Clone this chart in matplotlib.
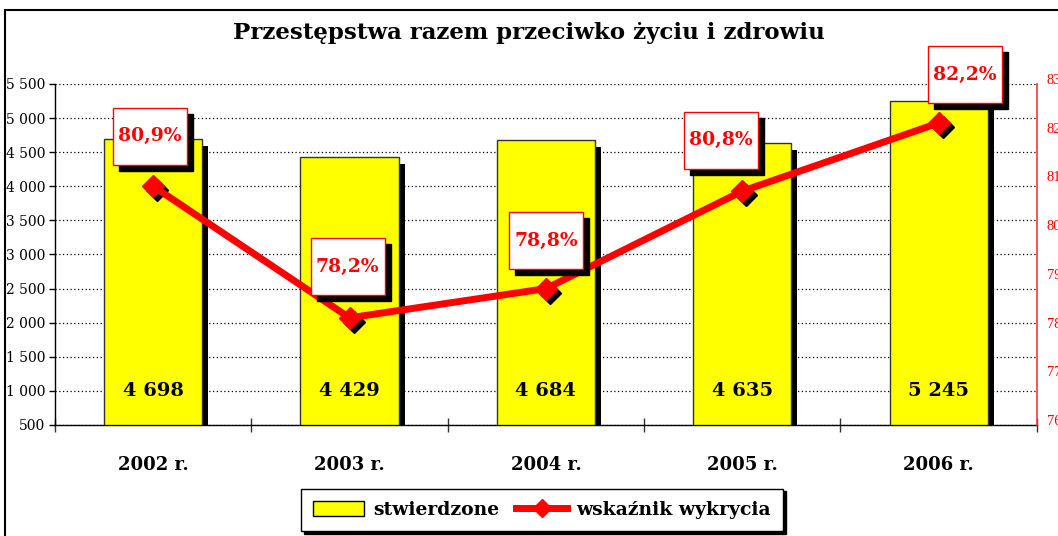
import matplotlib.pyplot as plt
import numpy as np
from matplotlib.patches import Rectangle, Patch
from matplotlib.lines import Line2D
from matplotlib.transforms import ScaledTranslation

# -----------------------------
# Data
# -----------------------------
years = ["2002 r.", "2003 r.", "2004 r.", "2005 r.", "2006 r."]
stwierdzone = [4698, 4429, 4684, 4635, 5245]
wskaznik = [80.9, 78.2, 78.8, 80.8, 82.2]

left_ticks = list(range(500, 5501, 500))
right_ticks = list(range(76, 84))

# label box offsets from the marker, in pixels (dx, dy)
box_offsets = [(-3, 50), (-2, 51), (0, 48), (-21, 51), (26, 48)]

plt.rcParams["font.family"] = "DejaVu Serif"

fig = plt.figure(figsize=(10.58, 5.36), dpi=100)
ax = fig.add_axes([0.052, 0.2071, 0.928, 0.6362])
PX = 1 / fig.dpi

x = np.arange(len(years))

# -----------------------------
# Bars (with black drop shadow)
# -----------------------------
shadow_off = ax.transData + ScaledTranslation(6 * PX, -7 * PX, fig.dpi_scale_trans)
heights = [v - 500 for v in stwierdzone]
shadows = ax.bar(x, heights, width=0.5, bottom=500, color="black", zorder=2)
for p in shadows:
    p.set_transform(shadow_off)
ax.bar(x, heights, width=0.5, bottom=500, color="#ffff00", edgecolor="#333333",
       linewidth=1, zorder=3)

for i, v in enumerate(stwierdzone):
    ax.text(i, 1000, f"{v:,}".replace(",", " "), ha="center", va="center",
            fontsize=14, fontweight="bold", zorder=4)

ax.set_xlim(-0.5, 4.5)
ax.set_ylim(500, 5500)
ax.set_yticks(left_ticks)
ax.set_yticklabels([f"{v:,}".replace(",", " ") for v in left_ticks], fontsize=10)
ax.tick_params(axis="y", direction="out", length=4, width=1, pad=3)
ax.set_xticks(x)
ax.set_xticklabels(years, fontsize=13, fontweight="bold")
ax.set_xticks(np.arange(-0.5, 5, 1), minor=True)
ax.tick_params(axis="x", which="major", length=0, pad=22)
ax.tick_params(axis="x", which="minor", direction="inout", length=10, width=1,
               color="#333333")
ax.yaxis.grid(True, linestyle=(0, (1, 2)), color="black", linewidth=0.9)
ax.set_axisbelow(True)
for s in ["top", "right"]:
    ax.spines[s].set_visible(False)
ax.spines["left"].set_linewidth(1)
ax.spines["bottom"].set_linewidth(1)

# -----------------------------
# Detection rate line (right axis)
# -----------------------------
ax2 = ax.twinx()
ax2.set_ylim(76, 83)
ax2.set_yticks(right_ticks)
ax2.set_yticklabels([f"{v}%" for v in right_ticks], color="red", fontsize=10.5,
                    family="Liberation Serif")
ax2.tick_params(axis="y", length=0, pad=7)
lift = ScaledTranslation(0, 5 * PX, fig.dpi_scale_trans)
for lbl in ax2.get_yticklabels():
    lbl.set_transform(lbl.get_transform() + lift)
for s in ["top", "left", "bottom"]:
    ax2.spines[s].set_visible(False)
ax2.spines["right"].set_color("#ff3333")
ax2.spines["right"].set_linewidth(1.2)

mk_off = ax2.transData + ScaledTranslation(4 * PX, -4 * PX, fig.dpi_scale_trans)
ax2.plot(x, wskaznik, ls="none", marker="D", ms=11, color="black",
         transform=mk_off, zorder=3)
ax2.plot(x, wskaznik, color="red", lw=5, marker="D", ms=11, zorder=4)

bw, bh = 74, 57
for i, v in enumerate(wskaznik):
    dx, dy = box_offsets[i]
    trans = fig.dpi_scale_trans + ScaledTranslation(x[i], v, ax2.transData)
    ax2.add_patch(Rectangle(((dx - bw / 2 + 6) * PX, (dy - bh / 2 - 6) * PX),
                            bw * PX, bh * PX, transform=trans, color="black",
                            clip_on=False, zorder=5))
    ax2.add_patch(Rectangle(((dx - bw / 2) * PX, (dy - bh / 2) * PX),
                            bw * PX, bh * PX, transform=trans, facecolor="white",
                            edgecolor="red", linewidth=1, clip_on=False, zorder=6))
    ax2.text(dx * PX, dy * PX, f"{v:.1f}%".replace(".", ","), transform=trans,
             ha="center", va="center", color="red", fontsize=13.5,
             fontweight="bold", zorder=7)

# -----------------------------
# Title, frame, legend
# -----------------------------
fig.text(0.5, 0.938, "Przestępstwa razem przeciwko życiu i zdrowiu",
         ha="center", va="center", fontsize=16.5, fontweight="bold")

fig.add_artist(Rectangle((5 / 1058, -0.1), 1.0, 1 - 10 / 536 + 0.1,
                         transform=fig.transFigure, fill=False,
                         edgecolor="black", linewidth=1.5))

handles = [Patch(facecolor="#ffff00", edgecolor="black", linewidth=1),
           Line2D([], [], color="red", lw=5, marker="D", ms=9)]
leg = fig.legend(handles, ["stwierdzone", "wskaźnik wykrycia"], ncol=2,
                 loc="center", bbox_to_anchor=(542 / 1058, 1 - 510 / 536),
                 frameon=True, fancybox=False, edgecolor="black", framealpha=1,
                 shadow={"color": "black", "alpha": 1},
                 prop={"size": 13.5, "weight": "bold"},
                 handlelength=2.7, handleheight=0.9, columnspacing=0.9,
                 handletextpad=0.5, borderpad=0.65, borderaxespad=0)
leg.get_frame().set_linewidth(1)

fig.savefig("out.png", dpi=100)
